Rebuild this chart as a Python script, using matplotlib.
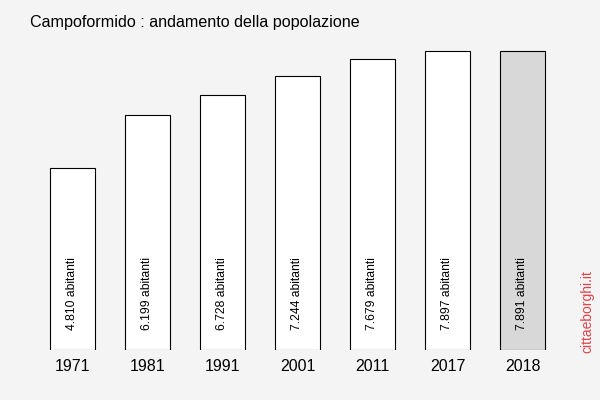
import matplotlib
matplotlib.use("Agg")
import matplotlib.pyplot as plt

years = ["1971", "1981", "1991", "2001", "2011", "2017", "2018"]
population = [4810, 6199, 6728, 7244, 7679, 7897, 7891]
labels = ["4.810 abitanti", "6.199 abitanti", "6.728 abitanti", "7.244 abitanti",
          "7.679 abitanti", "7.897 abitanti", "7.891 abitanti"]
title = "Campoformido : andamento della popolazione"
watermark = "cittaeborghi.it"

plt.rcParams['font.family'] = ['Liberation Sans', 'DejaVu Sans']
bg = "#f4f4f4"
fig = plt.figure(figsize=(6, 4), dpi=100, facecolor=bg)
ax = fig.add_axes([0, 0.125, 1, 0.75], facecolor=bg)

x = list(range(len(years)))
colors = ["white"] * (len(years) - 1) + ["#d8d8d8"]
ax.bar(x, population, width=0.6, color=colors, edgecolor="black", linewidth=0.8)
ax.set_xlim(-72.5 / 75, (600 - 72.5) / 75)
ax.set_ylim(0, 7928)
for s in ax.spines.values():
    s.set_visible(False)
ax.set_yticks([])
ax.set_xticks(x)
ax.set_xticklabels(years, fontsize=11.5)
ax.tick_params(axis="x", length=0, pad=6.5)

for xi, lab in zip(x, labels):
    ax.annotate(lab, xy=(xi, 0), xytext=(-0.5, 14.5), textcoords="offset points",
                rotation=90, ha="center", va="bottom", fontsize=8.7)

fig.text(30 / 600, 1 - 22 / 400, title, fontsize=11.6, ha="left", va="center")
fig.text(587 / 600, 1 - 312 / 400, watermark, fontsize=10, color="#e0434b",
         rotation=90, ha="center", va="center")

fig.savefig("out.png", dpi=100, facecolor=bg)
